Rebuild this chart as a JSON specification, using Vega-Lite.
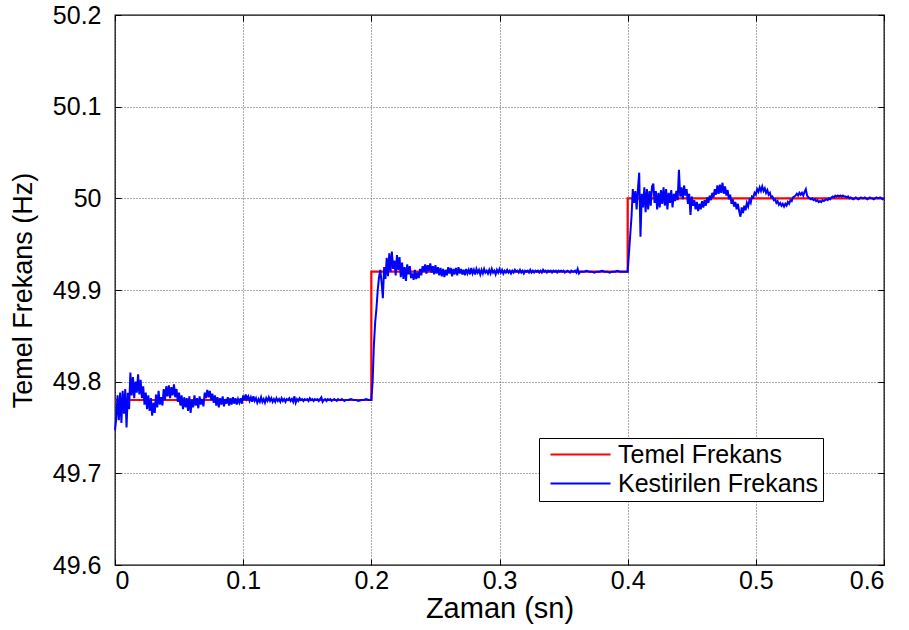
{
  "$schema": "https://vega.github.io/schema/vega-lite/v6.json",
  "width": 769,
  "height": 550,
  "autosize": {"type": "none"},
  "padding": {"left": 115, "top": 15, "right": 25, "bottom": 65},
  "background": "white",
  "config": {
    "font": "Liberation Sans",
    "view": {"stroke": "black", "strokeWidth": 1.3},
    "axis": {
      "domain": false,
      "ticks": true,
      "tickSize": -6,
      "tickColor": "black",
      "gridColor": "#555555",
      "gridDash": [1, 2],
      "gridWidth": 1,
      "labelFont": "Liberation Sans",
      "labelFontSize": 25,
      "labelColor": "black",
      "titleFont": "Liberation Sans",
      "titleFontWeight": "normal",
      "titleColor": "black"
    },
    "legend": {
      "labelFont": "Liberation Sans",
      "labelFontSize": 25,
      "labelColor": "black",
      "labelLimit": 500
    }
  },
  "resolve": {"axis": {"x": "independent", "y": "independent"}},
  "datasets": {
    "temel": [
      {"t": 0.0, "f": 49.78},
      {"t": 0.2, "f": 49.92},
      {"t": 0.4, "f": 50.0},
      {"t": 0.6, "f": 50.0}
    ],
    "kestirilen": [
      {"t":0.000,"f":49.747},{"t":0.001,"f":49.760},{"t":0.002,"f":49.785},{"t":0.003,"f":49.758},{"t":0.004,"f":49.788},
      {"t":0.005,"f":49.755},{"t":0.006,"f":49.790},{"t":0.007,"f":49.765},{"t":0.008,"f":49.792},{"t":0.009,"f":49.750},
      {"t":0.010,"f":49.788},{"t":0.011,"f":49.770},{"t":0.012,"f":49.810},{"t":0.013,"f":49.785},{"t":0.014,"f":49.805},
      {"t":0.015,"f":49.782},{"t":0.016,"f":49.800},{"t":0.017,"f":49.788},{"t":0.018,"f":49.808},{"t":0.019,"f":49.786},
      {"t":0.020,"f":49.802},{"t":0.021,"f":49.782},{"t":0.022,"f":49.795},{"t":0.023,"f":49.775},{"t":0.024,"f":49.788},
      {"t":0.025,"f":49.770},{"t":0.026,"f":49.785},{"t":0.027,"f":49.768},{"t":0.028,"f":49.782},{"t":0.029,"f":49.763},
      {"t":0.030,"f":49.777},{"t":0.031,"f":49.766},{"t":0.032,"f":49.786},{"t":0.033,"f":49.772},{"t":0.034,"f":49.790},
      {"t":0.035,"f":49.775},{"t":0.036,"f":49.783},{"t":0.037,"f":49.774},{"t":0.038,"f":49.792},{"t":0.039,"f":49.780},
      {"t":0.040,"f":49.795},{"t":0.041,"f":49.784},{"t":0.042,"f":49.796},{"t":0.043,"f":49.782},{"t":0.044,"f":49.794},
      {"t":0.045,"f":49.785},{"t":0.046,"f":49.797},{"t":0.047,"f":49.783},{"t":0.048,"f":49.792},{"t":0.049,"f":49.778},
      {"t":0.050,"f":49.788},{"t":0.051,"f":49.774},{"t":0.052,"f":49.785},{"t":0.053,"f":49.770},{"t":0.054,"f":49.783},
      {"t":0.055,"f":49.772},{"t":0.056,"f":49.782},{"t":0.057,"f":49.768},{"t":0.058,"f":49.784},{"t":0.059,"f":49.766},
      {"t":0.060,"f":49.780},{"t":0.061,"f":49.772},{"t":0.062,"f":49.785},{"t":0.063,"f":49.774},{"t":0.064,"f":49.782},
      {"t":0.065,"f":49.771},{"t":0.066,"f":49.784},{"t":0.067,"f":49.775},{"t":0.068,"f":49.781},{"t":0.069,"f":49.773},
      {"t":0.070,"f":49.788},{"t":0.071,"f":49.782},{"t":0.072,"f":49.791},{"t":0.073,"f":49.783},{"t":0.074,"f":49.790},
      {"t":0.075,"f":49.780},{"t":0.076,"f":49.787},{"t":0.077,"f":49.777},{"t":0.078,"f":49.785},{"t":0.079,"f":49.774},
      {"t":0.080,"f":49.783},{"t":0.081,"f":49.772},{"t":0.082,"f":49.782},{"t":0.083,"f":49.775},{"t":0.084,"f":49.784},
      {"t":0.085,"f":49.773},{"t":0.086,"f":49.781},{"t":0.087,"f":49.776},{"t":0.088,"f":49.783},{"t":0.089,"f":49.774},
      {"t":0.090,"f":49.782},{"t":0.091,"f":49.775},{"t":0.092,"f":49.783},{"t":0.093,"f":49.776},{"t":0.094,"f":49.782},
      {"t":0.095,"f":49.775},{"t":0.096,"f":49.781},{"t":0.097,"f":49.777},{"t":0.098,"f":49.782},{"t":0.099,"f":49.776},
      {"t":0.100,"f":49.785},{"t":0.101,"f":49.780},{"t":0.102,"f":49.786},{"t":0.103,"f":49.781},{"t":0.104,"f":49.784},
      {"t":0.105,"f":49.779},{"t":0.106,"f":49.783},{"t":0.107,"f":49.778},{"t":0.108,"f":49.784},{"t":0.109,"f":49.779},
      {"t":0.110,"f":49.782},{"t":0.111,"f":49.777},{"t":0.112,"f":49.781},{"t":0.113,"f":49.778},{"t":0.114,"f":49.783},
      {"t":0.115,"f":49.778},{"t":0.116,"f":49.781},{"t":0.117,"f":49.777},{"t":0.118,"f":49.782},{"t":0.119,"f":49.779},
      {"t":0.120,"f":49.783},{"t":0.121,"f":49.779},{"t":0.122,"f":49.782},{"t":0.123,"f":49.778},{"t":0.124,"f":49.781},
      {"t":0.125,"f":49.778},{"t":0.126,"f":49.782},{"t":0.127,"f":49.779},{"t":0.128,"f":49.781},{"t":0.129,"f":49.778},
      {"t":0.130,"f":49.782},{"t":0.131,"f":49.779},{"t":0.132,"f":49.781},{"t":0.133,"f":49.778},{"t":0.134,"f":49.781},
      {"t":0.135,"f":49.780},{"t":0.136,"f":49.782},{"t":0.137,"f":49.779},{"t":0.138,"f":49.781},{"t":0.139,"f":49.778},
      {"t":0.140,"f":49.784},{"t":0.141,"f":49.777},{"t":0.142,"f":49.781},{"t":0.143,"f":49.779},{"t":0.144,"f":49.782},
      {"t":0.145,"f":49.780},{"t":0.146,"f":49.781},{"t":0.147,"f":49.779},{"t":0.148,"f":49.781},{"t":0.149,"f":49.780},
      {"t":0.150,"f":49.781},{"t":0.151,"f":49.779},{"t":0.152,"f":49.782},{"t":0.153,"f":49.780},{"t":0.154,"f":49.781},
      {"t":0.155,"f":49.779},{"t":0.156,"f":49.781},{"t":0.157,"f":49.780},{"t":0.158,"f":49.781},{"t":0.159,"f":49.779},
      {"t":0.160,"f":49.781},{"t":0.161,"f":49.783},{"t":0.162,"f":49.778},{"t":0.163,"f":49.780},{"t":0.164,"f":49.781},
      {"t":0.165,"f":49.779},{"t":0.166,"f":49.781},{"t":0.167,"f":49.780},{"t":0.168,"f":49.781},{"t":0.169,"f":49.779},
      {"t":0.170,"f":49.780},{"t":0.171,"f":49.781},{"t":0.172,"f":49.780},{"t":0.173,"f":49.779},{"t":0.174,"f":49.781},
      {"t":0.175,"f":49.780},{"t":0.176,"f":49.780},{"t":0.177,"f":49.781},{"t":0.178,"f":49.780},{"t":0.179,"f":49.779},
      {"t":0.180,"f":49.780},{"t":0.182,"f":49.780},{"t":0.184,"f":49.781},{"t":0.186,"f":49.780},{"t":0.188,"f":49.780},
      {"t":0.190,"f":49.779},{"t":0.192,"f":49.780},{"t":0.194,"f":49.780},{"t":0.196,"f":49.781},{"t":0.198,"f":49.780},
      {"t":0.200,"f":49.780},{"t":0.201,"f":49.800},{"t":0.202,"f":49.840},{"t":0.203,"f":49.865},{"t":0.204,"f":49.880},
      {"t":0.205,"f":49.900},{"t":0.206,"f":49.914},{"t":0.207,"f":49.922},{"t":0.208,"f":49.908},{"t":0.209,"f":49.891},
      {"t":0.210,"f":49.925},{"t":0.211,"f":49.912},{"t":0.212,"f":49.935},{"t":0.213,"f":49.915},{"t":0.214,"f":49.940},
      {"t":0.215,"f":49.920},{"t":0.216,"f":49.942},{"t":0.217,"f":49.923},{"t":0.218,"f":49.932},{"t":0.219,"f":49.916},
      {"t":0.220,"f":49.938},{"t":0.221,"f":49.922},{"t":0.222,"f":49.936},{"t":0.223,"f":49.914},{"t":0.224,"f":49.930},
      {"t":0.225,"f":49.912},{"t":0.226,"f":49.925},{"t":0.227,"f":49.910},{"t":0.228,"f":49.928},{"t":0.229,"f":49.917},
      {"t":0.230,"f":49.926},{"t":0.231,"f":49.913},{"t":0.232,"f":49.918},{"t":0.233,"f":49.911},{"t":0.234,"f":49.922},
      {"t":0.235,"f":49.912},{"t":0.236,"f":49.919},{"t":0.237,"f":49.913},{"t":0.238,"f":49.923},{"t":0.239,"f":49.916},
      {"t":0.240,"f":49.926},{"t":0.241,"f":49.920},{"t":0.242,"f":49.928},{"t":0.243,"f":49.918},{"t":0.244,"f":49.927},
      {"t":0.245,"f":49.921},{"t":0.246,"f":49.929},{"t":0.247,"f":49.919},{"t":0.248,"f":49.926},{"t":0.249,"f":49.917},
      {"t":0.250,"f":49.927},{"t":0.251,"f":49.918},{"t":0.252,"f":49.925},{"t":0.253,"f":49.916},{"t":0.254,"f":49.924},
      {"t":0.255,"f":49.915},{"t":0.256,"f":49.923},{"t":0.257,"f":49.914},{"t":0.258,"f":49.922},{"t":0.259,"f":49.916},
      {"t":0.260,"f":49.925},{"t":0.261,"f":49.918},{"t":0.262,"f":49.924},{"t":0.263,"f":49.915},{"t":0.264,"f":49.923},
      {"t":0.265,"f":49.917},{"t":0.266,"f":49.924},{"t":0.267,"f":49.916},{"t":0.268,"f":49.925},{"t":0.269,"f":49.918},
      {"t":0.270,"f":49.923},{"t":0.271,"f":49.917},{"t":0.272,"f":49.922},{"t":0.273,"f":49.916},{"t":0.274,"f":49.923},
      {"t":0.275,"f":49.918},{"t":0.276,"f":49.922},{"t":0.277,"f":49.917},{"t":0.278,"f":49.924},{"t":0.279,"f":49.918},
      {"t":0.280,"f":49.922},{"t":0.281,"f":49.917},{"t":0.282,"f":49.923},{"t":0.283,"f":49.919},{"t":0.284,"f":49.922},
      {"t":0.285,"f":49.917},{"t":0.286,"f":49.922},{"t":0.287,"f":49.918},{"t":0.288,"f":49.923},{"t":0.289,"f":49.919},
      {"t":0.290,"f":49.921},{"t":0.291,"f":49.918},{"t":0.292,"f":49.922},{"t":0.293,"f":49.918},{"t":0.294,"f":49.923},
      {"t":0.295,"f":49.919},{"t":0.296,"f":49.921},{"t":0.297,"f":49.917},{"t":0.298,"f":49.922},{"t":0.299,"f":49.919},
      {"t":0.300,"f":49.923},{"t":0.301,"f":49.919},{"t":0.302,"f":49.922},{"t":0.303,"f":49.918},{"t":0.304,"f":49.921},
      {"t":0.305,"f":49.919},{"t":0.306,"f":49.922},{"t":0.307,"f":49.919},{"t":0.308,"f":49.921},{"t":0.309,"f":49.918},
      {"t":0.310,"f":49.921},{"t":0.311,"f":49.919},{"t":0.312,"f":49.922},{"t":0.313,"f":49.920},{"t":0.314,"f":49.921},
      {"t":0.315,"f":49.919},{"t":0.316,"f":49.922},{"t":0.317,"f":49.919},{"t":0.318,"f":49.921},{"t":0.319,"f":49.918},
      {"t":0.320,"f":49.921},{"t":0.321,"f":49.920},{"t":0.322,"f":49.921},{"t":0.323,"f":49.919},{"t":0.324,"f":49.922},
      {"t":0.325,"f":49.919},{"t":0.326,"f":49.921},{"t":0.327,"f":49.919},{"t":0.328,"f":49.921},{"t":0.329,"f":49.920},
      {"t":0.330,"f":49.921},{"t":0.331,"f":49.919},{"t":0.332,"f":49.921},{"t":0.333,"f":49.919},{"t":0.334,"f":49.922},
      {"t":0.335,"f":49.920},{"t":0.336,"f":49.921},{"t":0.337,"f":49.919},{"t":0.338,"f":49.921},{"t":0.339,"f":49.920},
      {"t":0.340,"f":49.921},{"t":0.341,"f":49.919},{"t":0.342,"f":49.921},{"t":0.343,"f":49.920},{"t":0.344,"f":49.921},
      {"t":0.345,"f":49.919},{"t":0.346,"f":49.921},{"t":0.347,"f":49.920},{"t":0.348,"f":49.921},{"t":0.349,"f":49.920},
      {"t":0.350,"f":49.921},{"t":0.351,"f":49.919},{"t":0.352,"f":49.920},{"t":0.353,"f":49.921},{"t":0.354,"f":49.920},
      {"t":0.355,"f":49.919},{"t":0.356,"f":49.921},{"t":0.357,"f":49.920},{"t":0.358,"f":49.920},{"t":0.359,"f":49.921},
      {"t":0.360,"f":49.919},{"t":0.361,"f":49.923},{"t":0.362,"f":49.918},{"t":0.363,"f":49.920},{"t":0.366,"f":49.920},
      {"t":0.368,"f":49.921},{"t":0.370,"f":49.920},{"t":0.372,"f":49.920},{"t":0.374,"f":49.919},{"t":0.376,"f":49.920},
      {"t":0.378,"f":49.920},{"t":0.380,"f":49.921},{"t":0.382,"f":49.920},{"t":0.384,"f":49.920},{"t":0.386,"f":49.919},
      {"t":0.388,"f":49.920},{"t":0.390,"f":49.920},{"t":0.392,"f":49.921},{"t":0.394,"f":49.920},{"t":0.396,"f":49.920},
      {"t":0.398,"f":49.920},{"t":0.400,"f":49.920},{"t":0.401,"f":49.940},{"t":0.402,"f":49.960},{"t":0.403,"f":49.980},
      {"t":0.404,"f":50.010},{"t":0.405,"f":49.995},{"t":0.406,"f":50.008},{"t":0.407,"f":49.988},{"t":0.408,"f":50.010},
      {"t":0.409,"f":50.028},{"t":0.410,"f":49.958},{"t":0.411,"f":50.005},{"t":0.412,"f":49.990},{"t":0.413,"f":50.012},
      {"t":0.414,"f":49.985},{"t":0.415,"f":50.010},{"t":0.416,"f":49.988},{"t":0.417,"f":50.008},{"t":0.418,"f":49.992},
      {"t":0.419,"f":50.013},{"t":0.420,"f":50.016},{"t":0.421,"f":49.995},{"t":0.422,"f":50.008},{"t":0.423,"f":49.988},
      {"t":0.424,"f":50.006},{"t":0.425,"f":49.990},{"t":0.426,"f":50.009},{"t":0.427,"f":49.994},{"t":0.428,"f":50.012},
      {"t":0.429,"f":49.992},{"t":0.430,"f":50.010},{"t":0.431,"f":49.988},{"t":0.432,"f":50.006},{"t":0.433,"f":49.995},
      {"t":0.434,"f":50.009},{"t":0.435,"f":49.990},{"t":0.436,"f":50.005},{"t":0.437,"f":49.997},{"t":0.438,"f":50.008},
      {"t":0.439,"f":49.998},{"t":0.440,"f":50.031},{"t":0.441,"f":50.002},{"t":0.442,"f":50.012},{"t":0.443,"f":49.999},
      {"t":0.444,"f":50.014},{"t":0.445,"f":50.003},{"t":0.446,"f":50.010},{"t":0.447,"f":49.994},{"t":0.448,"f":50.005},
      {"t":0.449,"f":49.982},{"t":0.450,"f":50.002},{"t":0.451,"f":49.992},{"t":0.452,"f":49.998},{"t":0.453,"f":49.988},
      {"t":0.454,"f":49.996},{"t":0.455,"f":49.986},{"t":0.456,"f":49.994},{"t":0.457,"f":49.988},{"t":0.458,"f":49.997},
      {"t":0.459,"f":49.990},{"t":0.460,"f":49.998},{"t":0.461,"f":49.992},{"t":0.462,"f":50.001},{"t":0.463,"f":49.995},
      {"t":0.464,"f":50.003},{"t":0.465,"f":49.998},{"t":0.466,"f":50.006},{"t":0.467,"f":50.001},{"t":0.468,"f":50.010},
      {"t":0.469,"f":50.004},{"t":0.470,"f":50.014},{"t":0.471,"f":50.005},{"t":0.472,"f":50.015},{"t":0.473,"f":50.006},
      {"t":0.474,"f":50.017},{"t":0.475,"f":50.005},{"t":0.476,"f":50.013},{"t":0.477,"f":50.003},{"t":0.478,"f":50.009},
      {"t":0.479,"f":49.999},{"t":0.480,"f":50.004},{"t":0.481,"f":49.994},{"t":0.482,"f":49.999},{"t":0.483,"f":49.991},
      {"t":0.484,"f":49.996},{"t":0.485,"f":49.988},{"t":0.486,"f":49.994},{"t":0.487,"f":49.986},{"t":0.488,"f":49.980},
      {"t":0.489,"f":49.990},{"t":0.490,"f":49.984},{"t":0.491,"f":49.992},{"t":0.492,"f":49.987},{"t":0.493,"f":49.995},
      {"t":0.494,"f":49.991},{"t":0.495,"f":49.998},{"t":0.496,"f":49.995},{"t":0.497,"f":50.002},{"t":0.498,"f":50.001},
      {"t":0.499,"f":50.006},{"t":0.500,"f":50.004},{"t":0.501,"f":50.010},{"t":0.502,"f":50.007},{"t":0.503,"f":50.012},
      {"t":0.504,"f":50.008},{"t":0.505,"f":50.013},{"t":0.506,"f":50.008},{"t":0.507,"f":50.011},{"t":0.508,"f":50.006},
      {"t":0.509,"f":50.009},{"t":0.510,"f":50.004},{"t":0.511,"f":50.006},{"t":0.512,"f":50.001},{"t":0.513,"f":50.002},
      {"t":0.514,"f":49.998},{"t":0.515,"f":49.999},{"t":0.516,"f":49.995},{"t":0.517,"f":49.997},{"t":0.518,"f":49.993},
      {"t":0.519,"f":49.995},{"t":0.520,"f":49.992},{"t":0.521,"f":49.994},{"t":0.522,"f":49.991},{"t":0.523,"f":49.994},
      {"t":0.524,"f":49.992},{"t":0.525,"f":49.996},{"t":0.526,"f":49.994},{"t":0.527,"f":49.998},{"t":0.528,"f":49.997},
      {"t":0.529,"f":50.001},{"t":0.530,"f":50.002},{"t":0.531,"f":50.003},{"t":0.532,"f":50.005},{"t":0.533,"f":50.003},
      {"t":0.534,"f":50.006},{"t":0.535,"f":50.004},{"t":0.536,"f":50.006},{"t":0.537,"f":50.003},{"t":0.538,"f":50.007},
      {"t":0.539,"f":50.010},{"t":0.540,"f":50.003},{"t":0.541,"f":50.001},{"t":0.542,"f":50.000},{"t":0.543,"f":49.999},
      {"t":0.544,"f":50.000},{"t":0.545,"f":49.998},{"t":0.546,"f":49.999},{"t":0.547,"f":49.997},{"t":0.548,"f":49.998},
      {"t":0.549,"f":49.996},{"t":0.550,"f":49.997},{"t":0.551,"f":49.996},{"t":0.552,"f":49.998},{"t":0.553,"f":49.997},
      {"t":0.554,"f":49.998},{"t":0.555,"f":49.999},{"t":0.556,"f":49.998},{"t":0.557,"f":50.000},{"t":0.558,"f":49.999},
      {"t":0.559,"f":50.001},{"t":0.560,"f":50.002},{"t":0.561,"f":50.001},{"t":0.562,"f":50.003},{"t":0.563,"f":50.002},
      {"t":0.564,"f":50.003},{"t":0.565,"f":50.002},{"t":0.566,"f":50.003},{"t":0.567,"f":50.002},{"t":0.568,"f":50.003},
      {"t":0.569,"f":50.002},{"t":0.570,"f":50.002},{"t":0.571,"f":50.001},{"t":0.572,"f":50.002},{"t":0.573,"f":50.000},
      {"t":0.574,"f":50.001},{"t":0.575,"f":50.000},{"t":0.576,"f":49.999},{"t":0.577,"f":50.000},{"t":0.578,"f":50.001},
      {"t":0.579,"f":50.000},{"t":0.580,"f":49.999},{"t":0.581,"f":50.000},{"t":0.582,"f":50.001},{"t":0.583,"f":50.000},
      {"t":0.584,"f":50.000},{"t":0.585,"f":50.001},{"t":0.586,"f":50.000},{"t":0.587,"f":49.999},{"t":0.588,"f":50.000},
      {"t":0.589,"f":50.001},{"t":0.590,"f":50.000},{"t":0.591,"f":50.000},{"t":0.592,"f":49.999},{"t":0.593,"f":50.000},
      {"t":0.594,"f":50.001},{"t":0.595,"f":50.000},{"t":0.596,"f":50.000},{"t":0.597,"f":50.001},{"t":0.598,"f":50.000},
      {"t":0.599,"f":49.999},{"t":0.600,"f":50.000}
    ]
  },
  "layer": [
    {
      "data": {"name": "temel"},
      "mark": {"type": "line", "interpolate": "step-after", "strokeWidth": 2.2},
      "encoding": {
        "x": {
          "field": "t",
          "type": "quantitative",
          "scale": {"domain": [0, 0.6], "nice": false, "zero": false},
          "axis": {
            "orient": "bottom",
            "grid": true,
            "title": "Zaman (sn)",
            "titleFontSize": 29,
            "values": [0, 0.1, 0.2, 0.3, 0.4, 0.5, 0.6],
            "format": "~g",
            "labelPadding": 9,
            "titlePadding": 1
          }
        },
        "y": {
          "field": "f",
          "type": "quantitative",
          "scale": {"domain": [49.6, 50.2], "nice": false, "zero": false},
          "axis": {
            "orient": "left",
            "grid": true,
            "title": "Temel Frekans (Hz)",
            "titleFontSize": 27,
            "values": [49.6, 49.7, 49.8, 49.9, 50, 50.1, 50.2],
            "format": "~g",
            "labelPadding": 20,
            "titlePadding": 15
          }
        },
        "color": {
          "datum": "Temel Frekans",
          "type": "nominal",
          "scale": {
            "domain": ["Temel Frekans", "Kestirilen Frekans"],
            "range": ["#ff0000", "#0000ff"]
          },
          "legend": {
            "title": null,
            "orient": "none",
            "legendX": 424,
            "legendY": 423,
            "direction": "vertical",
            "fillColor": "white",
            "strokeColor": "black",
            "padding": 4,
            "symbolType": "M-0.5,0H5.5",
            "symbolSize": 400,
            "symbolStrokeWidth": 2,
            "labelOffset": 50,
            "rowPadding": 3
          }
        }
      }
    },
    {
      "data": {"name": "kestirilen"},
      "mark": {"type": "line", "strokeWidth": 2},
      "encoding": {
        "x": {
          "field": "t",
          "type": "quantitative",
          "axis": {
            "orient": "top",
            "grid": false,
            "labels": false,
            "title": null,
            "values": [0, 0.1, 0.2, 0.3, 0.4, 0.5, 0.6]
          }
        },
        "y": {
          "field": "f",
          "type": "quantitative",
          "axis": {
            "orient": "right",
            "grid": false,
            "labels": false,
            "title": null,
            "values": [49.6, 49.7, 49.8, 49.9, 50, 50.1, 50.2]
          }
        },
        "color": {"datum": "Kestirilen Frekans", "type": "nominal"}
      }
    }
  ]
}
